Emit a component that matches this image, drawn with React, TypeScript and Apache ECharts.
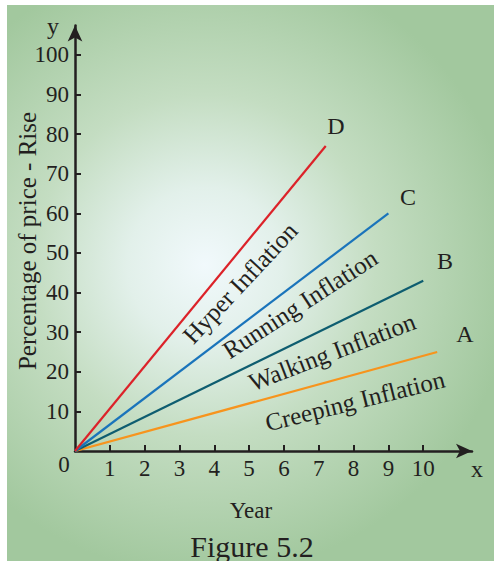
import React, { useEffect, useRef } from 'react';
import * as echarts from 'echarts';

// ---- data ----
const xTickValues = [1, 2, 3, 4, 5, 6, 7, 8, 9, 10];
const yTickValues = [10, 20, 30, 40, 50, 60, 70, 80, 90, 100];
const seriesNames = ['A', 'B', 'C', 'D'];
const creepingLine = [[0, 0], [10.4, 25]];
const walkingLine = [[0, 0], [10, 43]];
const runningLine = [[0, 0], [9, 60]];
const hyperLine = [[0, 0], [7.2, 77]];
const regionNames = ['Creeping Inflation', 'Walking Inflation', 'Running Inflation', 'Hyper Inflation'];

const FONT = '"Liberation Serif", "DejaVu Serif", serif';
const INK = '#231f20';
const lineColors = ['#f7941d', '#0e5d70', '#1a74bb', '#dc2229'];

function txt(text: string, x: number, y: number, size: number, rotDeg = 0) {
  return {
    type: 'text',
    x,
    y,
    rotation: (rotDeg * Math.PI) / 180,
    z: 100,
    silent: true,
    style: {
      text,
      fill: INK,
      font: `${size}px ${FONT}`,
      align: 'center',
      verticalAlign: 'middle',
      textAlign: 'center',
      textVerticalAlign: 'middle',
    },
  };
}

export default function App() {
  const ref = useRef<HTMLDivElement>(null);
  useEffect(() => {
    if (!ref.current) return;
    const chart = echarts.init(ref.current, null, { renderer: 'svg' });
    const lines = [creepingLine, walkingLine, runningLine, hyperLine];
    const option = {
      animation: false,
      grid: { left: 75, right: 22, top: 25.5, bottom: 110, containLabel: false },
      xAxis: {
        type: 'value',
        min: 0,
        max: 11.4,
        axisLine: {
          show: true,
          symbol: ['none', 'arrow'],
          symbolSize: [11, 16],
          lineStyle: { color: INK, width: 2.5 },
        },
        axisTick: { show: true, inside: true, length: 6, customValues: xTickValues, lineStyle: { color: INK, width: 2 } },
        axisLabel: { customValues: xTickValues, fontFamily: FONT, fontSize: 23, color: INK, margin: 6 },
        splitLine: { show: false },
      },
      yAxis: {
        type: 'value',
        min: 0,
        max: 107.4,
        axisLine: {
          show: true,
          symbol: ['none', 'arrow'],
          symbolSize: [11, 16],
          lineStyle: { color: INK, width: 2.5 },
        },
        axisTick: { show: true, inside: true, length: 6, customValues: yTickValues, lineStyle: { color: INK, width: 2 } },
        axisLabel: { customValues: yTickValues, fontFamily: FONT, fontSize: 23, color: INK, margin: 6 },
        splitLine: { show: false },
      },
      series: lines.map((d, i) => ({
        type: 'line',
        name: seriesNames[i],
        data: d,
        symbol: 'none',
        lineStyle: { color: lineColors[i], width: 2.2 },
        z: 3,
      })),
      graphic: [
        {
          type: 'rect',
          z: -100,
          silent: true,
          shape: { x: 7, y: 5, width: 487, height: 556 },
          style: {
            fill: new echarts.graphic.RadialGradient(205, 265, 310, [
              { offset: 0, color: '#f1f9fc' },
              { offset: 0.25, color: '#e2f0ea' },
              { offset: 0.55, color: '#c4ddc2' },
              { offset: 1, color: '#a2c89e' },
            ], true),
          },
        },
        txt('y', 53, 26, 24),
        txt('x', 477, 469, 24),
        txt('0', 64, 464, 23),
        txt(seriesNames[3], 336, 126, 24),
        txt(seriesNames[2], 408, 197, 24),
        txt(seriesNames[1], 445, 261, 24),
        txt(seriesNames[0], 465, 334, 24),
        txt(regionNames[3], 240, 283, 25, 47),
        txt(regionNames[2], 300, 304, 25, 33),
        txt(regionNames[1], 332, 352, 25, 21),
        txt(regionNames[0], 355, 401, 25, 14),
        txt('Percentage of price - Rise', 27, 241, 25, 90),
        txt('Year', 251, 510, 23),
        txt('Figure 5.2', 252, 546, 30),
      ],
    };
    chart.setOption(option as any);
    return () => chart.dispose();
  }, []);
  return <div ref={ref} style={{ position: 'absolute', left: 0, top: 0, width: 494, height: 561 }} />;
}
